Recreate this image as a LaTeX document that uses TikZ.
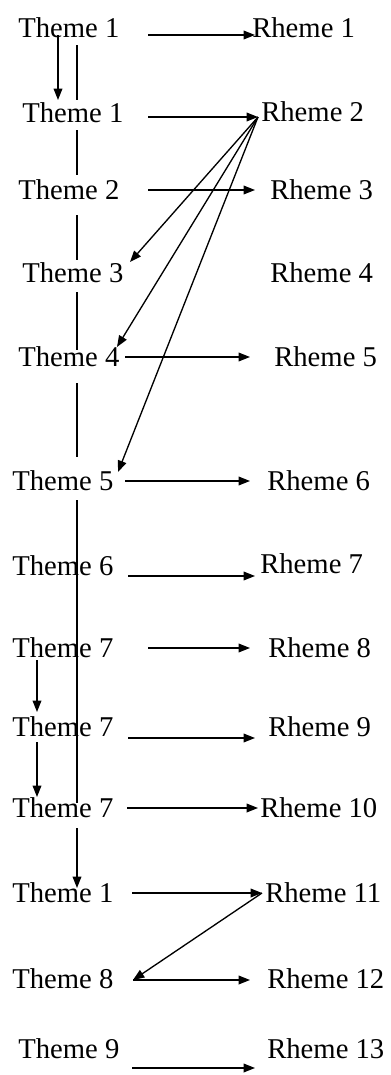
\documentclass[tikz,border=0pt]{standalone}
\usepackage{fontspec}
\setmainfont{Liberation Serif}
\usetikzlibrary{arrows.meta}
\begin{document}
\begin{tikzpicture}[x=0.75pt,y=-0.75pt,
  lbl/.style={inner sep=0pt,anchor=base west,font=\fontsize{21.5}{26}\selectfont},
  arr/.style={-{Triangle[length=8.5pt,width=6.5pt]},line width=1pt},
  ln/.style={line width=1pt}]
\useasboundingbox (0,0) rectangle (391,1075);
% theme column
\node[lbl] (t1)  at (18,37)   {Theme 1};
\node[lbl] (t2)  at (22,122)  {Theme 1};
\node[lbl] (t3)  at (18,199)  {Theme 2};
\node[lbl] (t4)  at (22,282)  {Theme 3};
\node[lbl] (t5)  at (18,366)  {Theme 4};
\node[lbl] (t6)  at (12,490)  {Theme 5};
\node[lbl] (t7)  at (12,575)  {Theme 6};
\node[lbl] (t8)  at (12,657)  {Theme 7};
\node[lbl] (t9)  at (12,736)  {Theme 7};
\node[lbl] (t10) at (12,817)  {Theme 7};
\node[lbl] (t11) at (12,902)  {Theme 1};
\node[lbl] (t12) at (12,988)  {Theme 8};
\node[lbl] (t13) at (18,1058) {Theme 9};
% rheme column
\node[lbl] (r1)  at (252,37)   {Rheme 1};
\node[lbl] (r2)  at (261,121)  {Rheme 2};
\node[lbl] (r3)  at (270,199)  {Rheme 3};
\node[lbl] (r4)  at (270,282)  {Rheme 4};
\node[lbl] (r5)  at (274,366)  {Rheme 5};
\node[lbl] (r6)  at (267,490)  {Rheme 6};
\node[lbl] (r7)  at (260,573)  {Rheme 7};
\node[lbl] (r8)  at (268,657)  {Rheme 8};
\node[lbl] (r9)  at (268,736)  {Rheme 9};
\node[lbl] (r10) at (260,817)  {Rheme 10};
\node[lbl] (r11) at (265,902)  {Rheme 11};
\node[lbl] (r12) at (267,988)  {Rheme 12};
\node[lbl] (r13) at (267,1058) {Rheme 13};
% theme -> rheme arrows
\draw[arr] ([shift={(130,-2)}]t1.base west)  -- ([shift={(3,-2)}]r1.base west);
\draw[arr] ([shift={(126,-5)}]t2.base west)  -- ([shift={(-3,-4)}]r2.base west);
\draw[arr] ([shift={(130,-9)}]t3.base west)  -- ([shift={(-15,-9)}]r3.base west);
\draw[arr] ([shift={(107,-9)}]t5.base west)  -- ([shift={(-24,-9)}]r5.base west);
\draw[arr] ([shift={(113,-9)}]t6.base west)  -- ([shift={(-17,-9)}]r6.base west);
\draw[arr] ([shift={(116,1)}]t7.base west)   -- ([shift={(-5,3)}]r7.base west);
\draw[arr] ([shift={(136,-9)}]t8.base west)  -- ([shift={(-18,-9)}]r8.base west);
\draw[arr] ([shift={(116,2)}]t9.base west)   -- ([shift={(-13,2)}]r9.base west);
\draw[arr] ([shift={(115,-9)}]t10.base west) -- ([shift={(-2,-9)}]r10.base west);
\draw[arr] ([shift={(120,-9)}]t11.base west) -- ([shift={(-3,-9)}]r11.base west);
\draw[arr] ([shift={(121,-8)}]t12.base west) -- ([shift={(-17,-8)}]r12.base west);
\draw[arr] ([shift={(114,10)}]t13.base west) -- ([shift={(-12,10)}]r13.base west);
% arrows from Rheme 2 back to later themes
\coordinate (r2o) at ([shift={(-3,-4)}]r2.base west);
\draw[arr] (r2o) -- ([shift={(108,-20)}]t4.base west);
\draw[arr] (r2o) -- ([shift={(99,-19)}]t5.base west);
\draw[arr] (r2o) -- ([shift={(106,-18)}]t6.base west);
% arrow from Rheme 11 back to Theme 8
\draw[arr] ([shift={(-3,-9)}]r11.base west) -- ([shift={(121,-8)}]t12.base west);
% vertical theme links
\draw[arr] ([shift={(40,-2)}]t1.base west) -- ([shift={(36,-22)}]t2.base west);
\draw[ln] ([shift={(59,8)}]t1.base west) -- ([shift={(55,-22)}]t2.base west);
\draw[ln] ([shift={(55,8)}]t2.base west) -- ([shift={(59,-24)}]t3.base west);
\draw[ln] ([shift={(59,16)}]t3.base west) -- ([shift={(55,-22)}]t4.base west);
\draw[ln] ([shift={(55,10)}]t4.base west) -- ([shift={(59,-16)}]t5.base west);
\draw[ln] ([shift={(59,17)}]t5.base west) -- ([shift={(65,-33)}]t6.base west);
\draw[ln] ([shift={(65,10)}]t6.base west) -- ([shift={(65,-14)}]t10.base west);
\draw[arr] ([shift={(65,11)}]t10.base west) -- ([shift={(65,-14)}]t11.base west);
\draw[arr] ([shift={(25,3)}]t8.base west) -- ([shift={(25,-24)}]t9.base west);
\draw[arr] ([shift={(25,6)}]t9.base west) -- ([shift={(25,-20)}]t10.base west);
\end{tikzpicture}
\end{document}
